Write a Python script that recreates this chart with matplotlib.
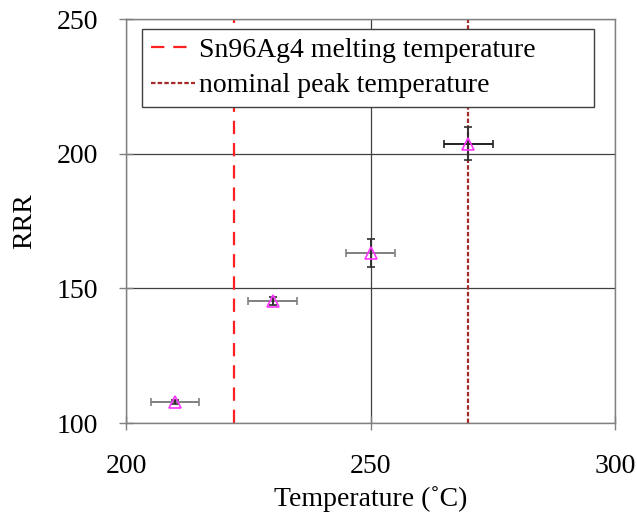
import matplotlib.pyplot as plt

# measured RRR vs. reflow temperature
temperature = [210, 230, 250, 270]
rrr = [107.8, 145.3, 163.1, 203.8]
temp_err = [5, 5, 5, 5]
rrr_err = [0.8, 1.5, 5.3, 6.0]

melting_temp = 222
peak_temp = 270

plt.rcParams['font.family'] = ['Liberation Serif', 'DejaVu Serif']

fig = plt.figure(figsize=(6.37, 5.16), dpi=100)
ax = fig.add_axes([0.198, 0.180, 0.7675, 0.783])

xerr_colors = ['#808080', '#808080', '#808080', '#202020']
for t, r, te, re, c in zip(temperature, rrr, temp_err, rrr_err, xerr_colors):
    ax.errorbar(t, r, xerr=te, fmt='none', ecolor=c, elinewidth=1.4,
                capsize=3, capthick=1.2, zorder=3)
    ax.errorbar(t, r, yerr=re, fmt='none', ecolor='#303030', elinewidth=1.4,
                capsize=3, capthick=1.2, zorder=3)
ax.plot(temperature, rrr, linestyle='none', marker='^', markersize=8,
        markerfacecolor='none', markeredgecolor='#ff33ff', markeredgewidth=1.2, zorder=4)

ax.axvline(melting_temp, color='#ff2020', linestyle=(0, (6, 4)), lw=1.6,
           label='Sn96Ag4 melting temperature', zorder=2)
ax.axvline(peak_temp, color='#a52a2a', linestyle=(0, (2, 1)), lw=1.6,
           label='nominal peak temperature', zorder=2)

ax.set_xlim(200, 300)
ax.set_ylim(100, 250)
ax.set_xticks([200, 250, 300])
ax.set_yticks([100, 150, 200, 250])
ax.grid(True, color='#404040', lw=0.9)
ax.set_axisbelow(True)

for sp in ax.spines.values():
    sp.set_color('#808080')
    sp.set_linewidth(1.0)
ax.tick_params(direction='inout', length=10, width=1.0, color='#808080',
               labelsize=20, pad=15)
ax.tick_params(axis='x', pad=17)

ax.set_xlabel('Temperature (\u02daC)', fontsize=20, labelpad=5)
ax.set_ylabel('RRR', fontsize=20, labelpad=14)

leg = ax.legend(loc='upper left', bbox_to_anchor=(0.033, 0.5, 0.924, 0.476),
                mode='expand', fontsize=20,
                frameon=True, fancybox=False, handlelength=1.6, handletextpad=0.15,
                borderpad=0.31, labelspacing=0.36, borderaxespad=0)
leg.get_frame().set_edgecolor('#404040')
leg.get_frame().set_linewidth(1.0)
leg.get_frame().set_alpha(1)

fig.savefig('out.png')
